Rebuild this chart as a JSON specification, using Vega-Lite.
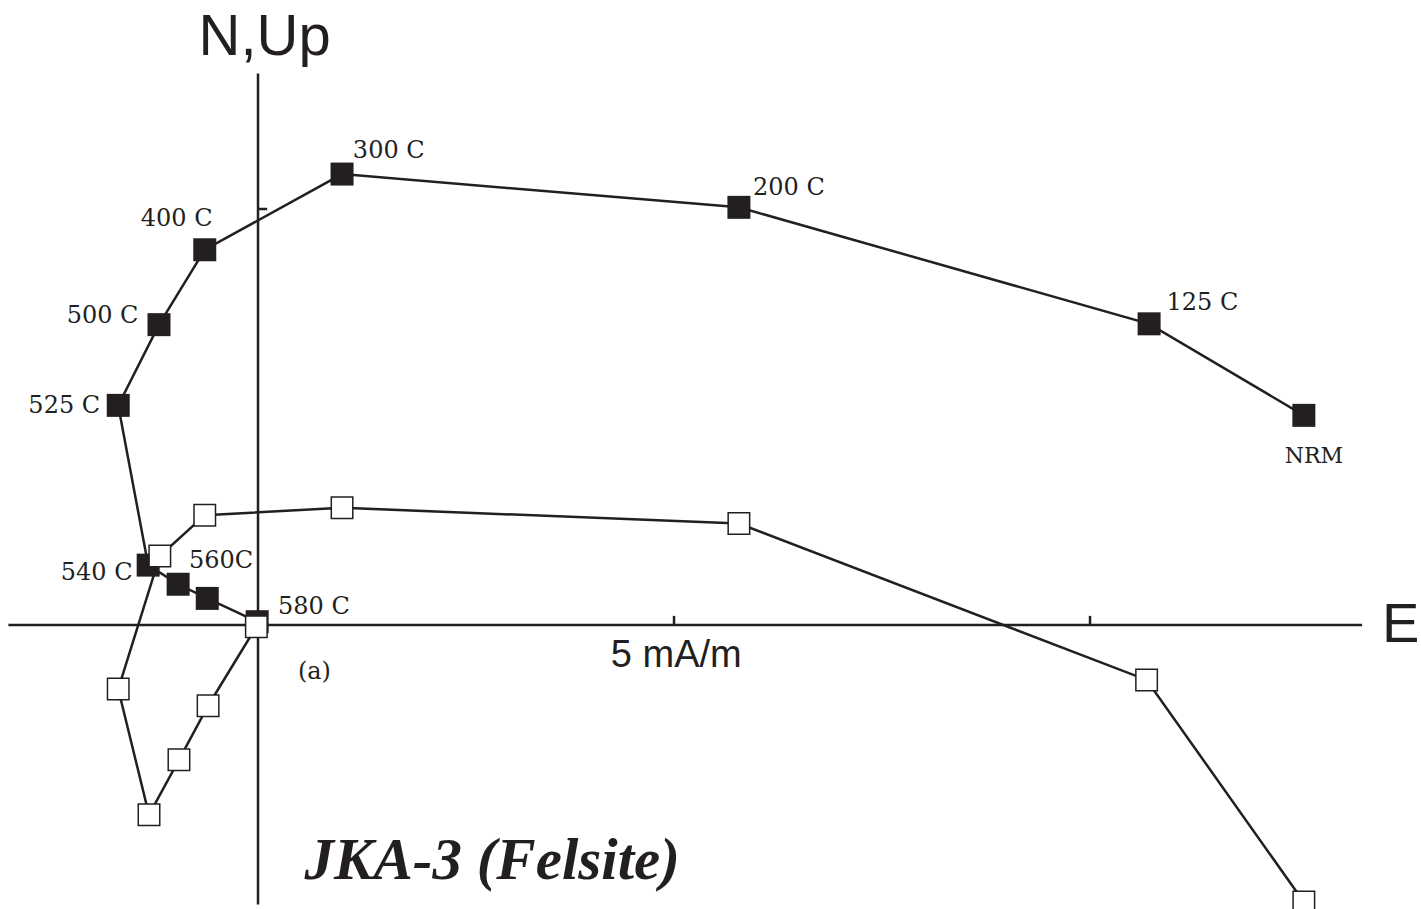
{
  "$schema": "https://vega.github.io/schema/vega-lite/v6.json",
  "width": 1421,
  "height": 909,
  "autosize": {"type": "none"},
  "padding": 0,
  "background": "white",
  "config": {"view": {"stroke": null}},
  "datasets": {
    "demag": [
      {"i": 0, "step": "NRM", "component": "N", "x": 12.57, "y": 2.52},
      {"i": 1, "step": "125 C", "component": "N", "x": 10.71, "y": 3.62},
      {"i": 2, "step": "200 C", "component": "N", "x": 5.78, "y": 5.02},
      {"i": 3, "step": "300 C", "component": "N", "x": 1.01, "y": 5.42},
      {"i": 4, "step": "400 C", "component": "N", "x": -0.64, "y": 4.51},
      {"i": 5, "step": "500 C", "component": "N", "x": -1.19, "y": 3.61},
      {"i": 6, "step": "525 C", "component": "N", "x": -1.68, "y": 2.64},
      {"i": 7, "step": "540 C", "component": "N", "x": -1.32, "y": 0.72},
      {"i": 8, "step": "560 C", "component": "N", "x": -0.96, "y": 0.49},
      {"i": 9, "step": "570 C", "component": "N", "x": -0.61, "y": 0.32},
      {"i": 10, "step": "580 C", "component": "N", "x": -0.01, "y": 0.04},
      {"i": 0, "step": "NRM", "component": "Up", "x": 12.57, "y": -3.33},
      {"i": 1, "step": "125 C", "component": "Up", "x": 10.68, "y": -0.66},
      {"i": 2, "step": "200 C", "component": "Up", "x": 5.78, "y": 1.22},
      {"i": 3, "step": "300 C", "component": "Up", "x": 1.01, "y": 1.41},
      {"i": 4, "step": "400 C", "component": "Up", "x": -0.64, "y": 1.32},
      {"i": 5, "step": "500 C", "component": "Up", "x": -1.18, "y": 0.83},
      {"i": 6, "step": "525 C", "component": "Up", "x": -1.68, "y": -0.77},
      {"i": 7, "step": "540 C", "component": "Up", "x": -1.31, "y": -2.28},
      {"i": 8, "step": "560 C", "component": "Up", "x": -0.95, "y": -1.62},
      {"i": 9, "step": "570 C", "component": "Up", "x": -0.60, "y": -0.97},
      {"i": 10, "step": "580 C", "component": "Up", "x": -0.02, "y": -0.02}
    ],
    "axes": [
      {"part": "E axis", "x": -3.0, "y": 0, "x2": 13.27, "y2": 0},
      {"part": "N,Up axis", "x": 0, "y": 6.63, "x2": 0, "y2": -3.36},
      {"part": "tick", "x": 5, "y": 0, "x2": 5, "y2": 0.11},
      {"part": "tick", "x": 10, "y": 0, "x2": 10, "y2": 0.11},
      {"part": "tick", "x": 0, "y": 5, "x2": 0.11, "y2": 5}
    ],
    "steplabels": [
      {"text": "300 C", "x": 1.14, "y": 5.70},
      {"text": "200 C", "x": 5.95, "y": 5.25},
      {"text": "125 C", "x": 10.92, "y": 3.87},
      {"text": "400 C", "x": -1.41, "y": 4.88},
      {"text": "500 C", "x": -2.30, "y": 3.71},
      {"text": "525 C", "x": -2.76, "y": 2.63},
      {"text": "540 C", "x": -2.37, "y": 0.62},
      {"text": "560C", "x": -0.83, "y": 0.77},
      {"text": "580 C", "x": 0.24, "y": 0.22},
      {"text": "(a)", "x": 0.48, "y": -0.56}
    ]
  },
  "encoding": {
    "x": {"field": "x", "type": "quantitative", "axis": null, "scale": {"domain": [-3.101, 13.978], "nice": false, "zero": false}},
    "y": {"field": "y", "type": "quantitative", "axis": null, "scale": {"domain": [-3.413, 7.512], "nice": false, "zero": false}}
  },
  "layer": [
    {
      "data": {"name": "axes"},
      "mark": {"type": "rule", "color": "#231f20", "strokeWidth": 2.5},
      "encoding": {
        "x2": {"field": "x2"},
        "y2": {"field": "y2"}
      }
    },
    {
      "data": {"name": "demag"},
      "transform": [{"filter": "datum.component === 'N'"}],
      "mark": {"type": "line", "color": "#231f20", "strokeWidth": 2.5},
      "encoding": {"order": {"field": "i", "type": "quantitative"}}
    },
    {
      "data": {"name": "demag"},
      "transform": [{"filter": "datum.component === 'N'"}],
      "mark": {"type": "point", "shape": "square", "filled": true, "size": 529, "color": "#231f20", "opacity": 1},
      "encoding": {}
    },
    {
      "data": {"name": "demag"},
      "transform": [{"filter": "datum.component === 'Up'"}],
      "mark": {"type": "line", "color": "#231f20", "strokeWidth": 2.5},
      "encoding": {"order": {"field": "i", "type": "quantitative"}}
    },
    {
      "data": {"name": "demag"},
      "transform": [{"filter": "datum.component === 'Up'"}],
      "mark": {"type": "point", "shape": "square", "filled": true, "size": 462, "fill": "white", "stroke": "#231f20", "strokeWidth": 1.5, "opacity": 1},
      "encoding": {}
    },
    {
      "data": {"name": "steplabels"},
      "mark": {"type": "text", "align": "left", "baseline": "middle", "font": "DejaVu Serif", "fontSize": 24, "color": "#231f20"},
      "encoding": {"text": {"field": "text"}}
    },
    {
      "data": {"values": [{"text": "NRM", "x": 12.69, "y": 2.03}]},
      "mark": {"type": "text", "align": "center", "baseline": "middle", "font": "DejaVu Serif", "fontSize": 22, "color": "#231f20"},
      "encoding": {"text": {"field": "text"}}
    },
    {
      "data": {"values": [{"text": "N,Up", "x": 0.08, "y": 7.06}]},
      "mark": {"type": "text", "align": "center", "baseline": "middle", "font": "Liberation Sans", "fontSize": 58, "color": "#231f20"},
      "encoding": {"text": {"field": "text"}}
    },
    {
      "data": {"values": [{"text": "E", "x": 13.51, "y": 0.0}]},
      "mark": {"type": "text", "align": "left", "baseline": "middle", "font": "Liberation Sans", "fontSize": 56, "color": "#231f20"},
      "encoding": {"text": {"field": "text"}}
    },
    {
      "data": {"values": [{"text": "5 mA/m", "x": 4.24, "y": -0.37}]},
      "mark": {"type": "text", "align": "left", "baseline": "middle", "font": "Liberation Sans", "fontSize": 38, "color": "#231f20"},
      "encoding": {"text": {"field": "text"}}
    },
    {
      "data": {"values": [{"text": "JKA-3 (Felsite)", "x": 0.56, "y": -2.84}]},
      "mark": {"type": "text", "align": "left", "baseline": "middle", "font": "Liberation Serif", "fontSize": 59, "fontWeight": "bold", "fontStyle": "italic", "color": "#231f20"},
      "encoding": {"text": {"field": "text"}}
    }
  ]
}
